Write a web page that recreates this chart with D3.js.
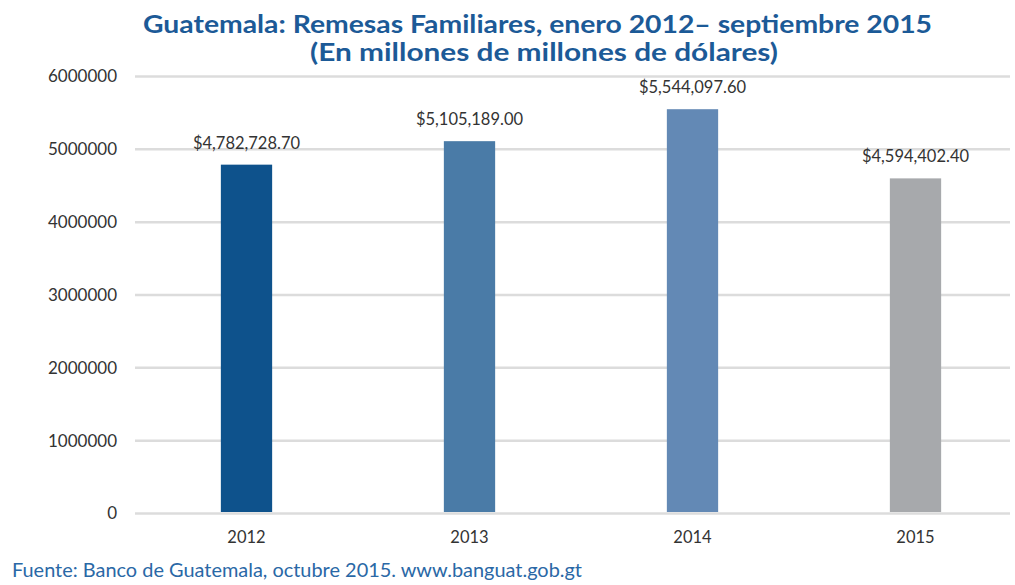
<!DOCTYPE html>
<html>
<head>
<meta charset="utf-8">
<script src="https://cdn.jsdelivr.net/npm/d3@7"></script>
<style>
  body { margin: 0; background: #fff; }
  text { font-family: Lato, "Open Sans", sans-serif; }
</style>
</head>
<body>
<svg></svg>
<script>
const years = ['2012', '2013', '2014', '2015'];
const values = [4782728.70, 5105189.00, 5544097.60, 4594402.40];
const barColors = ['#0e528c', '#4a7ba7', '#6389b5', '#a7a9ac'];
const yTicks = [0, 1000000, 2000000, 3000000, 4000000, 5000000, 6000000];
const titleLines = ['Guatemala: Remesas Familiares, enero 2012\u2013 septiembre 2015',
    '(En millones de millones de dólares)'];
const source = 'Fuente: Banco de Guatemala, octubre 2015. www.banguat.gob.gt';

const size = {w: 1015, h: 585};
const margin = {t: 76, r: 0, b: 72, l: 135};
const svg = d3.select('svg')
    .attr('width', size.w)
    .attr('height', size.h);

let x = d3.scaleBand()
    .domain(years)
    .range([margin.l, 1027])
    .paddingInner(0.77)
    .paddingOuter(0.385);

let y = d3.scaleLinear()
    .domain([0, 6000000])
    .range([size.h - margin.b, margin.t]);

// gridlines + tick labels
let grid = svg.append('g')
    .attr('transform', `translate(${margin.l},0)`)
    .call(d3.axisLeft(y).tickValues(yTicks).tickSize(-(1010 - margin.l)).tickFormat(d3.format('d')));
grid.select('.domain').remove();
grid.selectAll('line')
    .attr('stroke', '#dcdcdc')
    .attr('stroke-width', 2.5);
grid.selectAll('text')
    .attr('x', -18)
    .attr('dy', '0.35em')
    .style('font-size', '17px')
    .attr('fill', '#333');

// bars
svg.selectAll('rect.bar')
    .data(values)
    .join('rect')
    .classed('bar', true)
    .attr('x', (d, i) => x(years[i]))
    .attr('y', d => y(d))
    .attr('width', x.bandwidth())
    .attr('height', d => y(0) - y(d) - 1)
    .attr('fill', (d, i) => barColors[i]);

// value labels
let fmt = d3.format('$,.2f');
svg.selectAll('text.val')
    .data(values)
    .join('text')
    .classed('val', true)
    .attr('x', (d, i) => x(years[i]) + x.bandwidth() / 2)
    .attr('y', d => y(d) - 16)
    .attr('text-anchor', 'middle')
    .style('font-size', '16.5px')
    .attr('fill', '#333')
    .text(d => fmt(d));

// x labels
let xAxis = svg.append('g')
    .attr('transform', `translate(0,${y(0)})`)
    .call(d3.axisBottom(x).tickSize(0));
xAxis.select('.domain').remove();
xAxis.selectAll('text')
    .attr('y', 30)
    .attr('dy', 0)
    .style('font-size', '16.5px')
    .attr('fill', '#333');

// title
svg.selectAll('text.title')
    .data(titleLines)
    .join('text')
    .classed('title', true)
    .attr('x', (d, i) => i ? 544 : 537.5)
    .attr('y', (d, i) => 33 + i * 28)
    .attr('text-anchor', 'middle')
    .attr('textLength', (d, i) => i ? 468 : 789)
    .attr('lengthAdjust', 'spacingAndGlyphs')
    .style('font-size', '25px')
    .style('font-weight', 'bold')
    .attr('fill', '#1c5a97')
    .text(d => d);

// source
svg.append('text')
    .attr('x', 12)
    .attr('y', 577)
    .attr('textLength', 570)
    .attr('lengthAdjust', 'spacingAndGlyphs')
    .style('font-size', '20px')
    .attr('fill', '#2a68a6')
    .text(source);
</script>
</body>
</html>
